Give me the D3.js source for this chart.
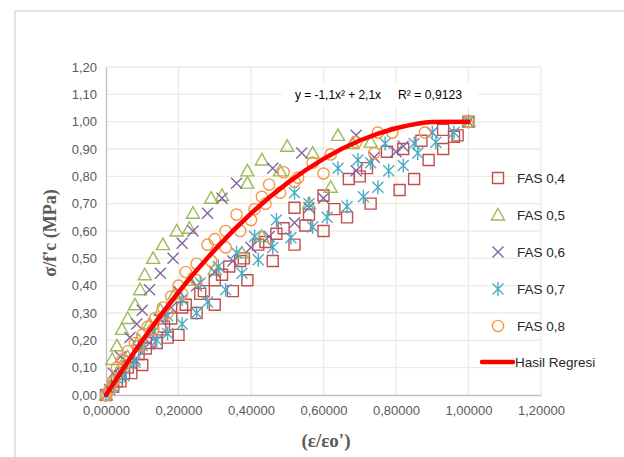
<!DOCTYPE html>
<html><head><meta charset="utf-8">
<script src="https://cdn.jsdelivr.net/npm/d3@7/dist/d3.min.js"></script>
<style>body{margin:0;background:#fff;overflow:hidden}</style>
</head><body>
<svg id="chart" width="624" height="457"></svg>
<script>
// ---- data ----
const xTickValues = [0, 0.2, 0.4, 0.6, 0.8, 1.0, 1.2];
const yTickValues = [0, 0.1, 0.2, 0.3, 0.4, 0.5, 0.6, 0.7, 0.8, 0.9, 1.0, 1.1, 1.2];
const seriesNames = ["FAS 0,4", "FAS 0,5", "FAS 0,6", "FAS 0,7", "FAS 0,8"];

const fas04X = [0.00,0.02,0.04,0.07,0.10,0.14,0.17,0.20,0.25,0.30,0.35,0.39,0.46,0.52,0.60,0.665,0.73,0.81,0.85,0.89,0.93,0.97,1.00,
  0.03,0.06,0.09,0.12,0.15,0.18,0.22,0.26,0.30,0.34,0.38,0.42,0.47,0.52,0.56,0.60,0.67,0.72,0.775,0.82,0.87,0.93,0.96,
  0.05,0.11,0.16,0.21,0.27,0.32,0.37,0.44,0.49,0.55,0.63,0.70];
const fas04Y = [0.00,0.03,0.05,0.08,0.11,0.19,0.21,0.22,0.30,0.33,0.38,0.42,0.49,0.55,0.60,0.65,0.70,0.75,0.79,0.86,0.90,0.95,1.00,
  0.05,0.10,0.15,0.19,0.24,0.28,0.33,0.37,0.42,0.47,0.50,0.55,0.59,0.685,0.66,0.73,0.79,0.83,0.89,0.90,0.93,0.97,0.945,
  0.08,0.17,0.25,0.32,0.38,0.44,0.49,0.56,0.61,0.62,0.68,0.80];

const fas05X = [0.00,0.017,0.03,0.044,0.06,0.08,0.094,0.107,0.13,0.157,0.195,0.23,0.24,0.29,0.32,0.39,0.39,0.43,0.50,
  0.01,0.03,0.06,0.09,0.12,0.15,0.19,0.23,0.30,0.375,0.43,0.56,0.62,0.48,0.57,0.64,0.68,0.73,1.00];
const fas05Y = [0.00,0.13,0.18,0.24,0.28,0.33,0.385,0.44,0.50,0.55,0.60,0.61,0.665,0.72,0.73,0.775,0.82,0.86,0.91,
  0.03,0.08,0.14,0.20,0.26,0.31,0.37,0.42,0.46,0.52,0.58,0.70,0.76,0.82,0.885,0.95,0.92,0.925,1.00];

const fas06X = [0.00,0.02,0.04,0.066,0.085,0.10,0.12,0.15,0.185,0.21,0.24,0.28,0.32,0.36,0.46,0.54,0.69,0.82,0.90,1.00,
  0.01,0.04,0.08,0.12,0.15,0.18,0.20,0.25,0.30,0.35,0.40,0.45,0.52,0.56,0.60,0.69,0.74,0.80];
const fas06Y = [0.00,0.08,0.14,0.21,0.26,0.31,0.385,0.445,0.50,0.555,0.60,0.665,0.72,0.775,0.83,0.885,0.95,0.91,0.96,1.00,
  0.02,0.07,0.13,0.19,0.275,0.32,0.38,0.40,0.45,0.49,0.54,0.58,0.63,0.685,0.72,0.82,0.87,0.89];

const fas07X = [0.00,0.02,0.05,0.08,0.10,0.14,0.17,0.21,0.25,0.28,0.33,0.375,0.42,0.46,0.51,0.57,0.61,0.665,0.71,0.75,0.78,0.82,0.86,0.91,0.96,1.00,
  0.03,0.06,0.09,0.13,0.17,0.21,0.26,0.31,0.36,0.41,0.47,0.52,0.56,0.64,0.695,0.73,0.77,0.85,0.90];
const fas07Y = [0.00,0.03,0.07,0.12,0.18,0.20,0.225,0.26,0.30,0.34,0.385,0.445,0.495,0.54,0.575,0.615,0.65,0.69,0.725,0.76,0.82,0.84,0.885,0.925,0.96,1.00,
  0.06,0.12,0.17,0.23,0.29,0.35,0.41,0.47,0.52,0.58,0.64,0.74,0.70,0.83,0.86,0.85,0.92,0.92,0.96];

const fas08X = [0.00,0.01,0.02,0.03,0.045,0.06,0.08,0.10,0.115,0.135,0.157,0.18,0.20,0.22,0.25,0.28,0.30,0.33,0.36,0.41,0.43,0.45,0.49,0.53,0.57,0.60,0.62,0.69,0.74,0.75,0.79,0.88,1.00,
  0.05,0.09,0.13,0.17,0.21,0.25,0.29,0.33,0.37,0.40,0.44,0.48,0.52];
const fas08Y = [0.00,0.02,0.05,0.10,0.13,0.16,0.19,0.22,0.25,0.28,0.32,0.36,0.40,0.45,0.48,0.55,0.57,0.60,0.66,0.68,0.725,0.77,0.815,0.795,0.85,0.81,0.88,0.925,0.885,0.96,0.96,0.96,1.00,
  0.11,0.18,0.24,0.30,0.37,0.42,0.49,0.54,0.60,0.64,0.70,0.74,0.78];

const regX = [0, 0.1, 0.2, 0.3, 0.4, 0.5, 0.6, 0.7, 0.8, 0.9, 1.0];
const regY = [0, 0.199, 0.376, 0.531, 0.664, 0.775, 0.864, 0.931, 0.976, 0.999, 1.0];

// ---- drawing ----
const svg = d3.select("#chart");
const x = d3.scaleLinear().domain([0, 1.2]).range([106, 541]);
const y = d3.scaleLinear().domain([0, 1.2]).range([395, 67]);
const font = "'Liberation Sans',Arial,sans-serif";

svg.append("rect").attr("width",624).attr("height",457).attr("fill","#fff");
svg.append("rect").attr("x",15).attr("y",11).attr("width",700).attr("height",600)
  .attr("fill","none").attr("stroke","#d9d9d9").attr("stroke-width",1.5);

// gridlines
const grid = svg.append("g");
grid.selectAll("line.h").data(yTickValues.slice(1)).join("line")
  .attr("x1",x(0)).attr("x2",x(1.2)).attr("y1",d=>y(d)).attr("y2",d=>y(d))
  .attr("stroke","#eeebe0").attr("stroke-width",1.3);
grid.selectAll("line.v").data(xTickValues.slice(1)).join("line")
  .attr("y1",y(0)).attr("y2",y(1.2)).attr("x1",d=>x(d)).attr("x2",d=>x(d))
  .attr("stroke","#eeebe0").attr("stroke-width",1.3);

// axes
const fmtX = d => d3.format(".5f")(d).replace(".", ",");
const fmtY = d => d3.format(".2f")(d).replace(".", ",");
const xAxis = svg.append("g").attr("transform",`translate(0,${y(0)})`)
  .call(d3.axisBottom(x).tickValues(xTickValues).tickFormat(fmtX).tickSize(0).tickPadding(11));
xAxis.select(".domain").attr("stroke","#bfbfbf").attr("stroke-width",1.3);
xAxis.selectAll("text").attr("fill","#595959").style("font-family",font).style("font-size","13px");
const yAxis = svg.append("g").attr("transform",`translate(${x(0)},0)`)
  .call(d3.axisLeft(y).tickValues(yTickValues).tickFormat(fmtY).tickSize(0).tickPadding(9));
yAxis.select(".domain").attr("stroke","#bfbfbf").attr("stroke-width",1.3);
yAxis.selectAll("text").attr("fill","#595959").style("font-family",font).style("font-size","13px");

// markers
const symbols = {
  square: "M-5.5,-5.5h11v11h-11Z",
  triangle: "M0,-6.5L6.5,5L-6.5,5Z",
  cross: "M-5.5,-5.5L5.5,5.5M5.5,-5.5L-5.5,5.5",
  star: "M-5.5,-5.5L5.5,5.5M5.5,-5.5L-5.5,5.5M0,-7L0,7",
  circle: d3.symbol(d3.symbolCircle, 100)()
};
const series = [
  {name: seriesNames[0], xs: fas04X, ys: fas04Y, color: "#c0504d", sym: "square"},
  {name: seriesNames[1], xs: fas05X, ys: fas05Y, color: "#9bbb59", sym: "triangle"},
  {name: seriesNames[2], xs: fas06X, ys: fas06Y, color: "#8064a2", sym: "cross"},
  {name: seriesNames[3], xs: fas07X, ys: fas07Y, color: "#4bacc6", sym: "star"},
  {name: seriesNames[4], xs: fas08X, ys: fas08Y, color: "#f79646", sym: "circle"}
];
series.forEach(s => {
  const pts = s.xs.map((v,i)=>[v, s.ys[i]]);
  svg.append("g").selectAll("path").data(pts).join("path")
    .attr("d", symbols[s.sym])
    .attr("transform", d=>`translate(${x(d[0])},${y(d[1])})`)
    .attr("fill","none").attr("stroke",s.color).attr("stroke-width",1.4);
});

// regression line
const line = d3.line().x(d=>x(d[0])).y(d=>y(d[1])).curve(d3.curveMonotoneX);
svg.append("path").datum(regX.map((v,i)=>[v, regY[i]]))
  .attr("d", line).attr("fill","none").attr("stroke","#ff0000").attr("stroke-width",4.5)
  .attr("stroke-linecap","round");

// equation label
svg.append("rect").attr("x",282).attr("y",84).attr("width",196).attr("height",22).attr("fill","#fff");
svg.append("text").attr("x",295).attr("y",99).attr("fill","#000")
  .style("font-family",font).style("font-size","13px")
  .attr("textLength",86).attr("lengthAdjust","spacingAndGlyphs")
  .text("y = -1,1x² + 2,1x");
svg.append("text").attr("x",398).attr("y",99).attr("fill","#000")
  .style("font-family",font).style("font-size","13px")
  .attr("textLength",64).attr("lengthAdjust","spacingAndGlyphs")
  .text("R² = 0,9123");

// legend
const legY = [178, 215, 252, 289, 326];
const leg = svg.append("g");
series.forEach((s,i) => {
  leg.append("path").attr("d", symbols[s.sym])
    .attr("transform",`translate(498,${legY[i]})`)
    .attr("fill","none").attr("stroke",s.color).attr("stroke-width",1.4);
  leg.append("text").attr("x",517).attr("y",legY[i]).attr("dy","0.35em")
    .attr("fill","#262626").style("font-family",font).style("font-size","13.5px").text(s.name);
});
leg.append("line").attr("x1",482).attr("x2",513).attr("y1",362).attr("y2",362)
  .attr("stroke","#ff0000").attr("stroke-width",4.5).attr("stroke-linecap","round");
leg.append("text").attr("x",515).attr("y",362).attr("dy","0.35em")
  .attr("fill","#262626").style("font-family",font).style("font-size","13.5px").text("Hasil Regresi");

// axis titles
svg.append("text").attr("x",326).attr("y",447).attr("text-anchor","middle")
  .attr("fill","#595959").style("font-family","'Liberation Serif','Times New Roman',serif")
  .style("font-weight","bold").style("font-size","19px").text("(ε/εo')");
svg.append("text").attr("transform","translate(56,233) rotate(-90)").attr("text-anchor","middle")
  .attr("fill","#595959").style("font-family","'Liberation Serif','Times New Roman',serif")
  .style("font-weight","bold").style("font-size","18px").text("σ/f'c (MPa)");
</script>
</body></html>
